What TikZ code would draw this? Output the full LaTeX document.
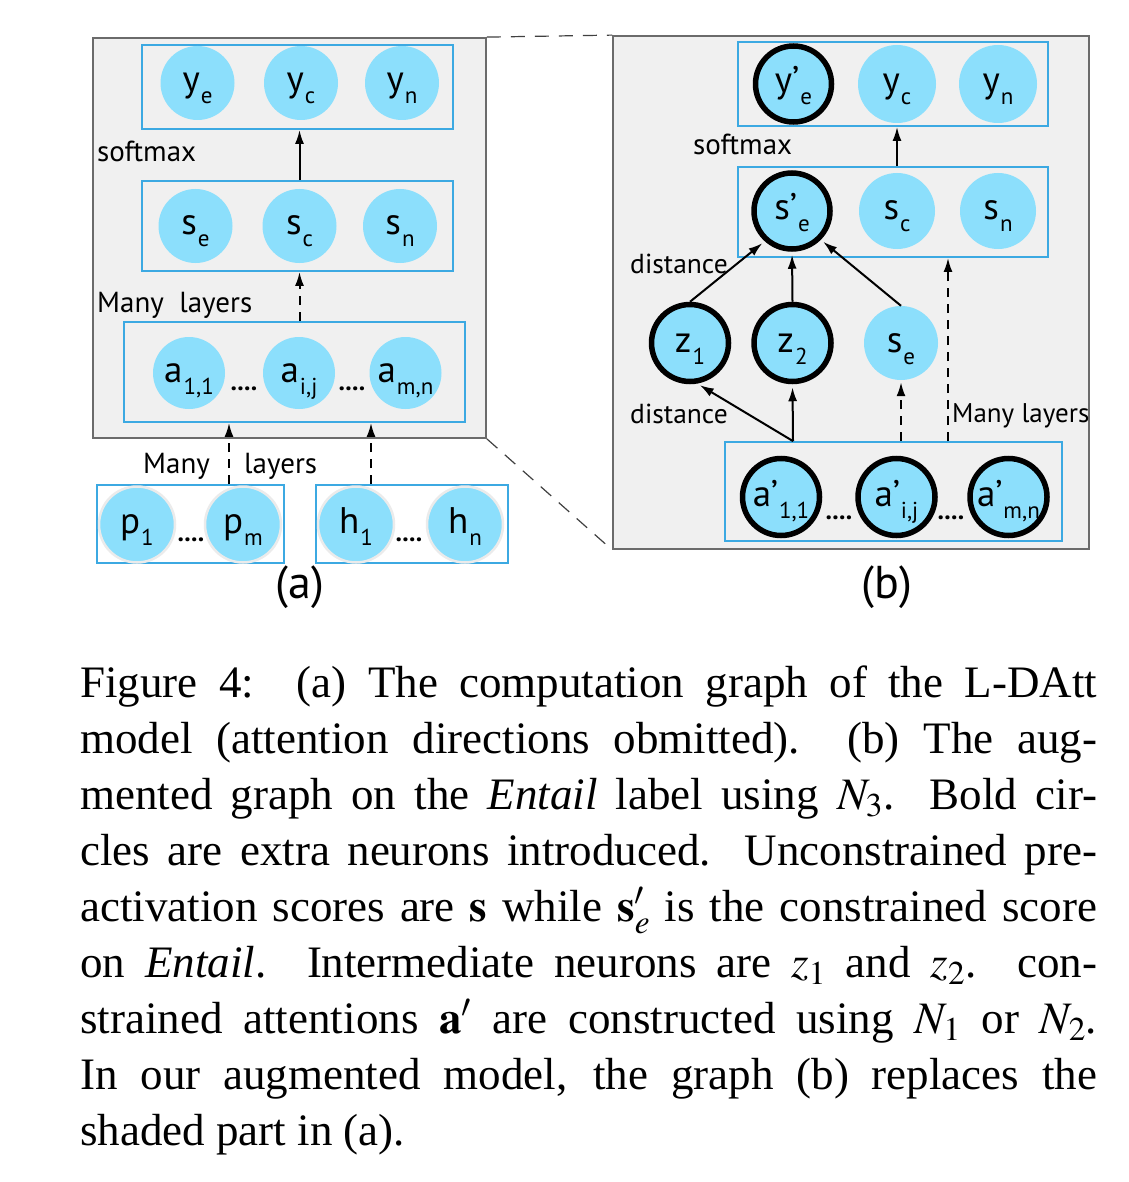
\documentclass[tikz,border=0pt]{standalone}
\usepackage{mathptmx}
\usepackage[no-math]{fontspec}
\setmainfont{Liberation Serif}
\newfontfamily\dsans{PT Sans}
\usetikzlibrary{arrows.meta}
\definecolor{cfill}{HTML}{8CDFFC}
\definecolor{bbox}{HTML}{3CA9E2}
\definecolor{panel}{HTML}{F0F0F0}
\definecolor{pborder}{HTML}{6B6B6B}
\newcommand{\nlab}[2]{{\fontsize{37}{37}\selectfont #1}\kern1pt\raisebox{-12pt}{\fontsize{23}{23}\selectfont #2}}
\begin{document}
\begin{tikzpicture}[x=1pt,y=-1pt,
  panelbox/.style={draw=pborder, fill=panel, line width=1.8pt, inner sep=0pt},
  bluebox/.style={draw=bbox, line width=1.8pt, inner sep=0pt},
  neuron/.style={circle, fill=cfill, minimum size=74pt, inner sep=0pt, text height=18pt, text depth=0pt, font=\dsans},
  boldn/.style={neuron, draw=black, line width=5.5pt, minimum size=76pt},
  ringn/.style={neuron, draw=black!8, line width=2.5pt, minimum size=76pt},
  arr/.style={-{Latex[length=14pt,width=9pt]}, line width=2pt},
  darr/.style={arr, dash pattern=on 9pt off 7pt},
  zoomline/.style={line width=1.2pt, black!75, dash pattern=on 14pt off 10pt},
  txt/.style={font=\dsans\fontsize{29}{29}\selectfont, inner sep=0pt},
  dots/.style={font=\dsans\bfseries\fontsize{26}{26}\selectfont, inner sep=0pt, anchor=base},
  sublbl/.style={font=\dsans\fontsize{46}{46}\selectfont, inner sep=0pt}
]
\useasboundingbox (0,0) rectangle (1128,1182);

% ---------- panels ----------
\node[panelbox, minimum width=393pt, minimum height=400pt] (pa) at (289.5,238) {};
\node[panelbox, minimum width=476pt, minimum height=513pt] (pb) at (851,292.5) {};
\draw[zoomline] (pa.north east) -- (pb.north west);
\draw[zoomline] (pa.south east) -- (pb.south west);

% ---------- panel (a) ----------
\node[bluebox, minimum width=311pt, minimum height=84pt] (ybox) at (297.5,87) {};
\node[bluebox, minimum width=311pt, minimum height=90pt] (sbox) at (297.5,226) {};
\node[bluebox, minimum width=341pt, minimum height=100pt] (abox) at (294.5,372) {};
\node[bluebox, minimum width=187pt, minimum height=78pt, fill=white] (pbox) at (190.5,524) {};
\node[bluebox, minimum width=192pt, minimum height=78pt, fill=white] (hbox) at (412,524) {};

\node[neuron] (ye) at (197.5,83) {\nlab{y}{e}};
\node[neuron] (yc) at (301,83) {\nlab{y}{c}};
\node[neuron] (yn) at (402,83) {\nlab{y}{n}};
\node[neuron] (se) at (195.5,226) {\nlab{s}{e}};
\node[neuron] (sc) at (299.5,226) {\nlab{s}{c}};
\node[neuron] (sn) at (400,226) {\nlab{s}{n}};
\node[neuron, minimum size=72pt] (a11) at (189,373) {\nlab{a}{1,1}};
\node[neuron, minimum size=72pt] (aij) at (299,373) {\nlab{a}{i,j}};
\node[neuron, minimum size=72pt] (amn) at (405.5,373) {\nlab{a}{m,n}};
\node[dots] (d1) at (244,390) {....};
\node[dots] (d2) at (352,390) {....};

\node[ringn] (p1) at (137,524.5) {\nlab{p}{1}};
\node[ringn] (pm) at (243,524.5) {\nlab{p}{m}};
\node[ringn] (h1) at (356,524.5) {\nlab{h}{1}};
\node[ringn] (hn) at (465,524.5) {\nlab{h}{n}};
\node[dots] (d3) at (191,541) {....};
\node[dots] (d4) at (409,541) {....};

\draw[arr] (sbox.north -| sc) -- (ybox.south -| sc);
\draw[darr] (abox.north -| sc) -- (sbox.south -| sc);
\coordinate (pin) at ([xshift=38.5pt]pbox.north);
\coordinate (hin) at ([xshift=-41pt]hbox.north);
\draw[darr] (pin) -- (pin |- abox.south);
\draw[darr] (hin) -- (hin |- abox.south);

\node[txt, anchor=base west] (smA) at (97,162) {softmax};
\node[txt, anchor=base west] (mlA) at (97,312) {Many\ \ layers};
\node[txt, anchor=base west] (mA) at (143,473) {Many};
\node[txt, anchor=base west] (lA) at (244,473) {layers};
\node[sublbl] (capA) at (300,587) {(a)};

% ---------- panel (b) ----------
\node[bluebox, minimum width=310pt, minimum height=84pt] (ybox2) at (893,84) {};
\node[bluebox, minimum width=310pt, minimum height=90pt] (sbox2) at (893,212) {};
\node[bluebox, minimum width=337pt, minimum height=99pt] (apbox) at (893.5,491.5) {};

\node[boldn] (yep) at (793.5,84) {\nlab{y’}{e}};
\node[neuron, minimum size=78pt] (yc2) at (897,84) {\nlab{y}{c}};
\node[neuron, minimum size=78pt] (yn2) at (998,84) {\nlab{y}{n}};
\node[boldn] (sep) at (792,211) {\nlab{s’}{e}};
\node[neuron, minimum size=76pt] (sc2) at (897,211) {\nlab{s}{c}};
\node[neuron, minimum size=76pt] (sn2) at (998,211) {\nlab{s}{n}};
\node[boldn, minimum size=77pt] (z1) at (690,343) {\nlab{z}{1}};
\node[boldn, minimum size=77pt] (z2) at (792.5,343) {\nlab{z}{2}};
\node[neuron] (se2) at (901,343) {\nlab{s}{e}};
\node[boldn, minimum size=77pt] (ap11) at (781,497) {\nlab{a’}{1,1}};
\node[boldn, minimum size=77pt] (apij) at (896.5,497) {\nlab{a’}{i,j}};
\node[boldn, minimum size=77pt] (apmn) at (1008.5,497) {\nlab{a’}{m,n}};
\node[dots] (d5) at (839,519) {....};
\node[dots] (d6) at (951,519) {....};

\draw[arr] (sbox2.north -| yc2) -- (ybox2.south -| yc2);
\draw[arr, shorten >=3pt] (z1.north) -- (sep.-132);
\draw[arr, shorten >=3pt] (z2.north) -- (sep.south);
\draw[arr, shorten >=3pt] (se2.north) -- (sep.-45);
\coordinate (apj) at ([xshift=-100.5pt]apbox.north);
\coordinate (apse) at ([xshift=7.5pt]apbox.north);
\coordinate (apml) at ([xshift=54.5pt]apbox.north);
\draw[arr, shorten >=3pt] (apj) -- (z2.south);
\draw[arr, shorten >=3pt] (apj) -- (z1.-80);
\draw[darr, shorten >=2pt] (apse) -- (se2.south);
\draw[darr] (apml) -- (apml |- sbox2.south);

\node[txt, anchor=base west] (smB) at (693,155) {softmax};
\node[txt, anchor=base west, font=\dsans\fontsize{27.5}{27.5}\selectfont] (dB1) at (630,273) {distance};
\node[txt, anchor=base west, font=\dsans\fontsize{27.5}{27.5}\selectfont] (dB2) at (630,423) {distance};
\node[txt, anchor=base west, font=\dsans\fontsize{27}{27}\selectfont] (mlB) at (952,422) {Many layers};
\node[sublbl] (capB) at (887,587) {(b)};

% ---------- caption ----------
\node[anchor=north west, text width=1017pt, align=justify, inner sep=0pt,
      font=\fontsize{45}{56}\selectfont] (caption) at (80,666) {%
Figure 4:\ \ (a) The computation graph of the L-DAtt\linebreak
model (attention directions obmitted).\ \ (b) The aug-\linebreak
mented graph on the \emph{Entail} label using $N_3$. Bold cir-\linebreak
cles are extra neurons introduced. Unconstrained pre-\linebreak
activation scores are $\mathbf{s}$ while $\mathbf{s}'_e$ is the constrained score\linebreak
on \emph{Entail}. Intermediate neurons are $z_1$ and $z_2$. con-\linebreak
strained attentions $\mathbf{a}'$ are constructed using $N_1$ or $N_2$.\linebreak
In our augmented model, the graph (b) replaces the\linebreak
shaded part in (a).};
\end{tikzpicture}
\end{document}
